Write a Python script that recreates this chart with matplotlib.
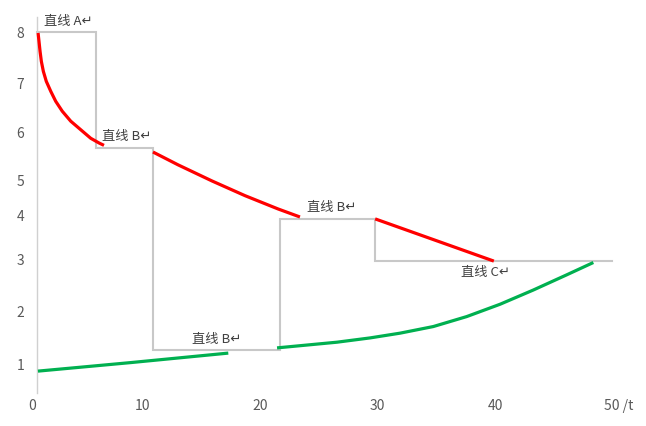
import matplotlib
matplotlib.use("Agg")
import matplotlib.pyplot as plt
import matplotlib.transforms as mtransforms

plt.rcParams['font.family'] = ['Noto Sans CJK SC', 'DejaVu Sans']

# step boundary (gray)
gray_x = [1.0, 6.04, 6.04, 10.89, 10.89, 21.7, 21.7, 29.79, 29.79, 49.96]
gray_y = [8.0, 8.0, 5.55, 5.55, 1.30, 1.30, 4.06, 4.06, 3.17, 3.17]

# red curve, three pieces
red1_x = [1.11, 1.19, 1.28, 1.39, 1.56, 1.81, 2.19, 2.61, 3.17, 3.89, 4.74, 5.59, 6.30, 6.72]
red1_y = [7.98, 7.80, 7.59, 7.38, 7.17, 6.96, 6.75, 6.54, 6.33, 6.12, 5.94, 5.76, 5.66, 5.61]
red2_x = [10.89, 13.02, 15.91, 18.72, 21.53, 23.40]
red2_y = [5.47, 5.20, 4.86, 4.55, 4.27, 4.10]
red3_x = [29.8, 39.9]
red3_y = [4.06, 3.17]

# green curve, two pieces
green1_x = [1.1, 9.0, 17.3]
green1_y = [0.85, 1.03, 1.23]
green2_x = [21.45, 26.55, 29.36, 31.91, 34.75, 37.59, 40.43, 43.26, 46.10, 48.37]
green2_y = [1.34, 1.46, 1.55, 1.65, 1.79, 2.00, 2.26, 2.56, 2.88, 3.14]

# annotations
labels = ['直线 A↵', '直线 B↵', '直线 B↵', '直线 B↵', '直线 C↵']
label_x = [3.66, 8.68, 26.13, 16.34, 39.15]
label_y = [8.23, 5.79, 4.31, 1.51, 2.92]

# axis ticks (y labels are unevenly spaced in the original)
xtick_pos = [0, 10, 20, 30, 40, 50]
xtick_lab = ['0', '10', '20', '30', '40', '50 /t']
ytick_pos = [1, 2.10, 3.21, 4.14, 4.86, 5.89, 6.92, 8.0]
ytick_lab = ['1', '2', '3', '4', '5', '6', '7', '8']

fig = plt.figure(figsize=(6.46, 4.26), dpi=100)
ax = fig.add_axes([0.031, 0.0775, 0.9597, 0.8825])

ax.plot(gray_x, gray_y, color='#c8c8c8', lw=1.5, zorder=2, solid_joinstyle='miter')
for xs, ys in [(red1_x, red1_y), (red2_x, red2_y), (red3_x, red3_y)]:
    ax.plot(xs, ys, color='#ff0000', lw=2.3, zorder=3, solid_capstyle='butt',
            solid_joinstyle='round')
for xs, ys in [(green1_x, green1_y), (green2_x, green2_y)]:
    ax.plot(xs, ys, color='#00b050', lw=2.3, zorder=3, solid_capstyle='butt',
            solid_joinstyle='round')

for t, x, y in zip(labels, label_x, label_y):
    ax.text(x, y, t, fontsize=9.5, color='#404040', ha='center', va='center', zorder=4)

ax.set_xlim(-0.426, 52.34)
ax.set_ylim(0.389, 8.316)

for s in ['top', 'right', 'bottom']:
    ax.spines[s].set_visible(False)
ax.spines['left'].set_position(('data', 1.0))
ax.spines['left'].set_color('#d0d0d0')
ax.spines['left'].set_linewidth(1.0)

ax.set_xticks(xtick_pos)
ax.set_xticklabels(xtick_lab)
ax.set_yticks(ytick_pos)
ax.set_yticklabels(ytick_lab)
ax.tick_params(axis='both', length=0, labelsize=10, labelcolor='#595959')
ax.tick_params(axis='x', pad=4)
ax.tick_params(axis='y', pad=9)

# nudge first and last x labels like the original
xl = ax.get_xticklabels()
xl[0].set_transform(xl[0].get_transform() + mtransforms.ScaledTranslation(7 / 100, 0, fig.dpi_scale_trans))
xl[-1].set_horizontalalignment('left')
xl[-1].set_transform(xl[-1].get_transform() + mtransforms.ScaledTranslation(-8 / 100, 0, fig.dpi_scale_trans))

fig.savefig('out.png', dpi=100)
